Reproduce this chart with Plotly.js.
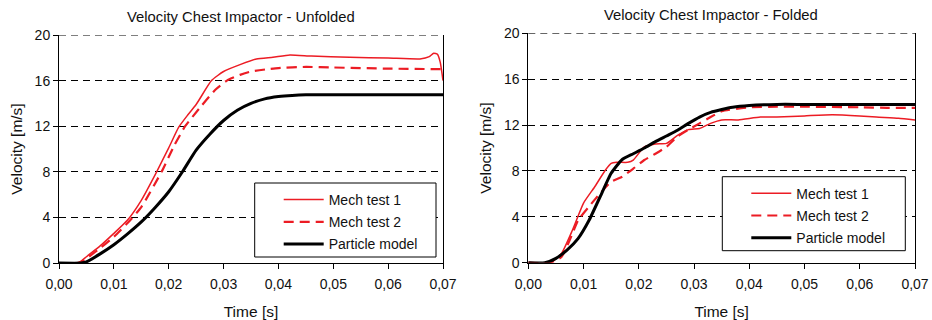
<!DOCTYPE html>
<html>
<head>
<meta charset="utf-8">
<script src="https://cdn.plot.ly/plotly-3.0.1.min.js"></script>
<style>html,body{margin:0;padding:0;background:#fff;}#chart{width:932px;height:320px;}</style>
</head>
<body>
<div id="chart"></div>
<script>
// ---- Data ----
const seriesNames = ["Mech test 1", "Mech test 2", "Particle model"];
const titleUnfolded = "Velocity Chest Impactor - Unfolded";
const titleFolded = "Velocity Chest Impactor - Folded";

// Unfolded
const t1u = [0, 0.003, 0.004, 0.005, 0.0075, 0.01, 0.0125, 0.015, 0.0178, 0.02, 0.0218, 0.0235, 0.025, 0.0278, 0.03, 0.033, 0.036, 0.039, 0.0421, 0.046, 0.053, 0.06, 0.0658, 0.0675, 0.0683, 0.069, 0.0695, 0.07];
const v1u = [0, 0, 0.15, 0.55, 1.5, 2.6, 3.77, 5.5, 8.0, 10.1, 11.9, 13.0, 13.9, 16.0, 16.8, 17.4, 17.9, 18.05, 18.25, 18.15, 18.05, 17.98, 17.9, 18.1, 18.4, 18.3, 17.6, 16.0];
const t2u = [0, 0.0035, 0.005, 0.0075, 0.01, 0.0125, 0.015, 0.0187, 0.021, 0.023, 0.026, 0.0285, 0.0306, 0.033, 0.035, 0.038, 0.04, 0.045, 0.05, 0.06, 0.07];
const v2u = [0, 0, 0.4, 1.3, 2.3, 3.5, 4.9, 8.0, 10.3, 12.0, 13.8, 15.2, 16.0, 16.5, 16.8, 17.0, 17.1, 17.2, 17.15, 17.05, 17.0];
const tpu = [0, 0.004, 0.005, 0.0075, 0.01, 0.0125, 0.015, 0.0175, 0.02, 0.0225, 0.025, 0.0275, 0.03, 0.0325, 0.035, 0.0375, 0.04, 0.0425, 0.045, 0.05, 0.06, 0.07];
const vpu = [0, 0, 0.1, 0.8, 1.6, 2.55, 3.6, 4.85, 6.25, 8.0, 9.9, 11.3, 12.5, 13.4, 14.0, 14.4, 14.6, 14.7, 14.75, 14.75, 14.75, 14.75];

// Folded
const t1f = [0, 0.004, 0.006, 0.008, 0.01, 0.012, 0.014, 0.015, 0.016, 0.018, 0.019, 0.021, 0.023, 0.025, 0.027, 0.029, 0.031, 0.033, 0.035, 0.038, 0.042, 0.045, 0.05, 0.055, 0.06, 0.063, 0.067, 0.07];
const v1f = [0, 0, 0.8, 2.85, 5.2, 6.6, 8.1, 8.66, 8.75, 8.75, 8.95, 10.1, 10.35, 10.4, 11.1, 11.6, 11.7, 12.15, 12.45, 12.45, 12.7, 12.7, 12.8, 12.9, 12.8, 12.7, 12.6, 12.45];
const t2f = [0, 0.004, 0.006, 0.008, 0.009, 0.011, 0.013, 0.015, 0.017, 0.019, 0.021, 0.023, 0.025, 0.027, 0.029, 0.031, 0.033, 0.035, 0.04, 0.045, 0.05, 0.06, 0.065, 0.07];
const v2f = [0, 0, 0.5, 2.55, 3.7, 4.9, 6.05, 7.05, 7.5, 8.2, 8.95, 9.5, 10.1, 11.0, 11.6, 12.15, 12.7, 13.2, 13.55, 13.6, 13.6, 13.55, 13.5, 13.5];
const tpf = [0, 0.003, 0.005, 0.007, 0.009, 0.011, 0.013, 0.015, 0.017, 0.019, 0.021, 0.023, 0.025, 0.027, 0.029, 0.031, 0.033, 0.035, 0.037, 0.04, 0.045, 0.05, 0.06, 0.07];
const vpf = [0, 0, 0.38, 1.1, 2.1, 3.7, 5.75, 7.8, 9.0, 9.5, 10.0, 10.55, 11.05, 11.55, 12.15, 12.7, 13.1, 13.35, 13.55, 13.7, 13.8, 13.8, 13.8, 13.8];

// ---- Styles ----
const RED = "#ec1c24";
const lineStyles = [
  {color: RED, width: 1.5, dash: "solid"},
  {color: RED, width: 2.2, dash: "10px,6px"},
  {color: "#000000", width: 3, dash: "solid"}
];
const FONT = "Liberation Sans, Arial, sans-serif";
const W = 932, H = 320;

function mk(x, y, i, xa, ya, leg) {
  return {
    x: x, y: y, type: "scatter", mode: "lines", name: seriesNames[i],
    xaxis: xa, yaxis: ya, legend: leg, legendgroup: leg + i,
    line: Object.assign({shape: "spline", smoothing: 0.5}, lineStyles[i]),
    hoverinfo: "skip"
  };
}

const data = [
  mk(t1u, v1u, 0, "x", "y", "legend"),
  mk(t2u, v2u, 1, "x", "y", "legend"),
  mk(tpu, vpu, 2, "x", "y", "legend"),
  mk(t1f, v1f, 0, "x2", "y2", "legend2"),
  mk(t2f, v2f, 1, "x2", "y2", "legend2"),
  mk(tpf, vpf, 2, "x2", "y2", "legend2")
];

function xax(domain, anchor) {
  return {
    domain: domain, anchor: anchor, range: [0, 0.07], dtick: 0.01, tick0: 0,
    tickformat: ".2f", showgrid: false, zeroline: false,
    showline: true, linecolor: "#000", linewidth: 1,
    ticks: "outside", ticklen: 5, tickcolor: "#000", tickwidth: 1,
    ticklabelstandoff: 3,
    tickfont: {family: FONT, size: 14, color: "#111"},
    title: {text: "Time [s]", font: {family: FONT, size: 15.5, color: "#111"}, standoff: 16},
    fixedrange: true
  };
}
function yax(domain, anchor) {
  return {
    domain: domain, anchor: anchor, range: [0, 20], dtick: 4, tick0: 0,
    showgrid: true, gridcolor: "#000", gridwidth: 1, griddash: "7px,5px",
    zeroline: false, showline: true, mirror: true, linecolor: "#000", linewidth: 1,
    ticks: "outside", ticklen: 5, tickcolor: "#000", tickwidth: 1,
    tickfont: {family: FONT, size: 14, color: "#111"},
    title: {text: "Velocity [m/s]", font: {family: FONT, size: 15.5, color: "#111"}, standoff: 8},
    fixedrange: true
  };
}
// legend boxes (px) : [left, top, right, bottom]
const box1 = [254.7, 183, 436, 257];
const box2 = [722.3, 176.7, 905.3, 250.7];
function leg(b) {
  return {
    x: (b[0] + 24) / W, y: 1 - (b[1] + 1) / H, xanchor: "left", yanchor: "top",
    xref: "paper", yref: "paper",
    bgcolor: "rgba(0,0,0,0)", borderwidth: 0,
    font: {family: FONT, size: 14, color: "#111"},
    traceorder: "grouped", tracegroupgap: 1, itemwidth: 40
  };
}
function boxShape(b) {
  return {type: "rect", xref: "paper", yref: "paper", layer: "above",
    x0: b[0] / W, x1: b[2] / W, y0: 1 - b[3] / H, y1: 1 - b[1] / H,
    fillcolor: "#fff", line: {color: "#000", width: 1}};
}
function topGrid(xr, yr) {
  return {type: "line", xref: xr + " domain", yref: yr, x0: 0, x1: 1, y0: 20, y1: 20,
    layer: "below", line: {color: "#000", width: 1, dash: "7px,5px"}};
}

const layout = {
  width: W, height: H,
  margin: {l: 0, r: 0, t: 0, b: 0},
  paper_bgcolor: "#fff", plot_bgcolor: "#fff",
  separators: ", ",
  showlegend: true,
  xaxis: xax([59/W, 443/W], "y"),
  yaxis: yax([1 - 263/H, 1 - 35/H], "x"),
  xaxis2: xax([528.3/W, 915/W], "y2"),
  yaxis2: yax([1 - 262.7/H, 1 - 33.3/H], "x2"),
  legend: leg(box1),
  legend2: leg(box2),
  shapes: [topGrid("x", "y"), topGrid("x2", "y2"), boxShape(box1), boxShape(box2)],
  annotations: [
    {text: titleUnfolded, x: 240.7/W, y: 1 - 17/H, xref: "paper", yref: "paper",
     xanchor: "center", yanchor: "middle", showarrow: false,
     font: {family: FONT, size: 14.8, color: "#111"}},
    {text: titleFolded, x: 710.7/W, y: 1 - 15/H, xref: "paper", yref: "paper",
     xanchor: "center", yanchor: "middle", showarrow: false,
     font: {family: FONT, size: 14.8, color: "#111"}}
  ]
};

Plotly.newPlot("chart", data, layout, {staticPlot: true, displayModeBar: false});
</script>
</body>
</html>
